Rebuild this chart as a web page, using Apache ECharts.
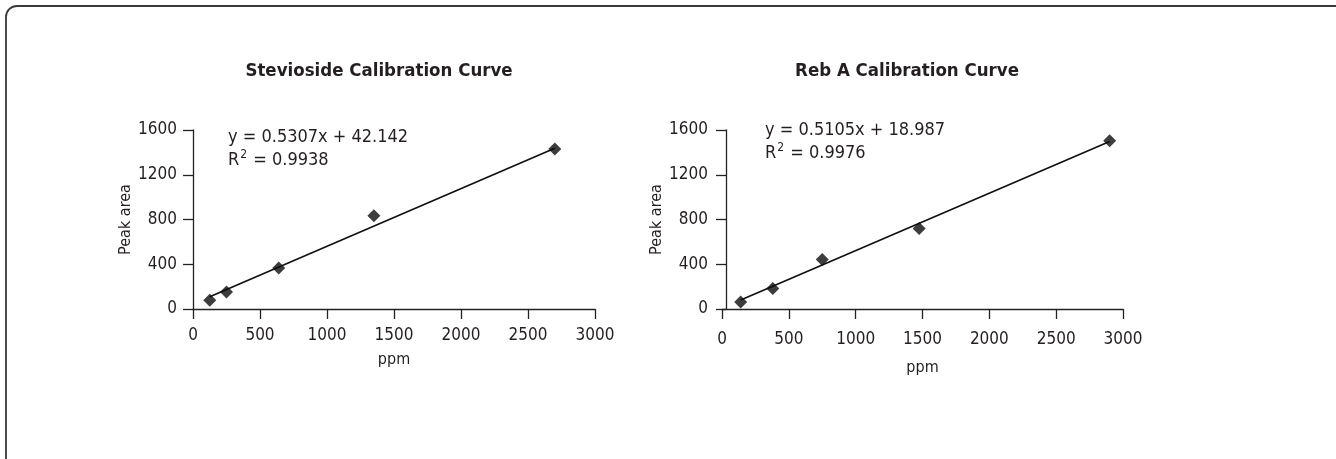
<!DOCTYPE html>
<html>
<head>
<meta charset="utf-8">
<script src="https://cdn.jsdelivr.net/npm/echarts@6/dist/echarts.min.js"></script>
<style>
html,body{margin:0;padding:0;background:#fff;}
#c{width:1336px;height:459px;}
</style>
</head>
<body>
<div id="c"></div>
<script>
// Data
var titles = ['Stevioside Calibration Curve', 'Reb A Calibration Curve'];
var equations = ['y = 0.5307x + 42.142', 'y = 0.5105x + 18.987'];
var r2Values = ['0.9938', '0.9976'];
var stevioPpm = [125, 250, 640, 1350, 2700];
var stevioArea = [78, 152, 367, 833, 1430];
var rebPpm = [140, 380, 750, 1475, 2900];
var rebArea = [63, 183, 442, 720, 1504];
var stevioTrendX = [125, 2700];
var stevioTrendY = [110, 1437];
var rebTrendX = [140, 2900];
var rebTrendY = [80, 1497];
var xTicks = [0, 500, 1000, 1500, 2000, 2500, 3000];
var yTicks = [0, 400, 800, 1200, 1600];

var FONT = '"Liberation Sans Narrow", "DejaVu Sans Condensed", "Roboto Condensed", sans-serif';
var TXT = '#231f20';

function pairs(xs, ys) { return xs.map(function (x, i) { return [x, ys[i]]; }); }

var grids = [
  { left: 193, right: 741, top: 130, bottom: 150 },
  { left: 722, right: 213, top: 130, bottom: 150 }
];

function xAxis(i, margin, gap) {
  return {
    type: 'value', gridIndex: i, min: xTicks[0], max: xTicks[xTicks.length - 1], interval: xTicks[1] - xTicks[0],
    name: 'ppm', nameLocation: 'middle', nameGap: gap,
    nameTextStyle: { fontFamily: FONT, fontSize: 16, color: TXT, letterSpacing: 1 },
    axisLine: { onZero: false, lineStyle: { color: '#222', width: 1.3 } },
    axisTick: { show: true, length: 10, inside: false, lineStyle: { color: '#222', width: 1.3 } },
    axisLabel: { fontFamily: FONT, fontSize: 17, color: TXT, margin: margin, formatter: function (v) { return String(v); } },
    splitLine: { show: false }
  };
}
function yAxis(i, off, margin) {
  return {
    type: 'value', gridIndex: i, min: yTicks[0], max: yTicks[yTicks.length - 1], interval: yTicks[1] - yTicks[0], offset: off,
    name: 'Peak area', nameLocation: 'middle', nameGap: 56, nameRotate: 90,
    nameTextStyle: { fontFamily: FONT, fontSize: 16, color: TXT, letterSpacing: 1.8 },
    axisLine: { show: true, onZero: false, lineStyle: { color: '#222', width: 1.3 } },
    axisTick: { show: true, length: 10, lineStyle: { color: '#222', width: 1.3 } },
    axisLabel: { fontFamily: FONT, fontSize: 17, color: TXT, margin: margin, formatter: function (v) { return String(v); } },
    splitLine: { show: false }
  };
}

function scatter(i, xs, ys) {
  return {
    type: 'scatter', xAxisIndex: i, yAxisIndex: i, data: pairs(xs, ys),
    symbol: 'diamond', symbolSize: 13, itemStyle: { color: '#0d0d0d' }, z: 5
  };
}
function trend(i, xs, ys) {
  return {
    type: 'line', xAxisIndex: i, yAxisIndex: i, data: pairs(xs, ys),
    symbol: 'none', lineStyle: { color: '#111', width: 1.7 }, z: 3
  };
}

function eqText(x, y, i) {
  return {
    type: 'text', left: x, top: y,
    style: {
      text: equations[i] + '\n{r|R}{s|2}{r| = ' + r2Values[i] + '}',
      fontFamily: FONT, fontSize: 18, fill: TXT, lineHeight: 23,
      rich: {
        r: { fontFamily: FONT, fontSize: 18, fill: TXT, lineHeight: 23 },
        s: { fontFamily: FONT, fontSize: 12, fill: TXT, verticalAlign: 'top', padding: [0, 1, 8, 1], lineHeight: 23 }
      }
    }
  };
}

var chart = echarts.init(document.getElementById('c'), null, { renderer: 'canvas' });
chart.setOption({
  backgroundColor: '#fff',
  animation: false,
  title: [
    { text: titles[0], left: 374, top: 57, textAlign: 'center',
      textStyle: { fontFamily: FONT, fontSize: 18.5, fontWeight: 'bold', color: TXT } },
    { text: titles[1], left: 902, top: 57, textAlign: 'center',
      textStyle: { fontFamily: FONT, fontSize: 18.5, fontWeight: 'bold', color: TXT } }
  ],
  grid: grids,
  xAxis: [xAxis(0, 18, 43), xAxis(1, 22, 51)],
  yAxis: [yAxis(0, 0, 16), yAxis(1, -4, 18)],
  series: [
    trend(0, stevioTrendX, stevioTrendY),
    scatter(0, stevioPpm, stevioArea),
    trend(1, rebTrendX, rebTrendY),
    scatter(1, rebPpm, rebArea)
  ],
  graphic: [
    { type: 'rect', shape: { x: 6, y: 6, width: 1400, height: 500, r: 11 },
      style: { fill: 'none', stroke: '#3a3a3a', lineWidth: 1.8 }, silent: true },
    eqText(228, 126, 0),
    eqText(765, 119, 1)
  ]
});
</script>
</body>
</html>
